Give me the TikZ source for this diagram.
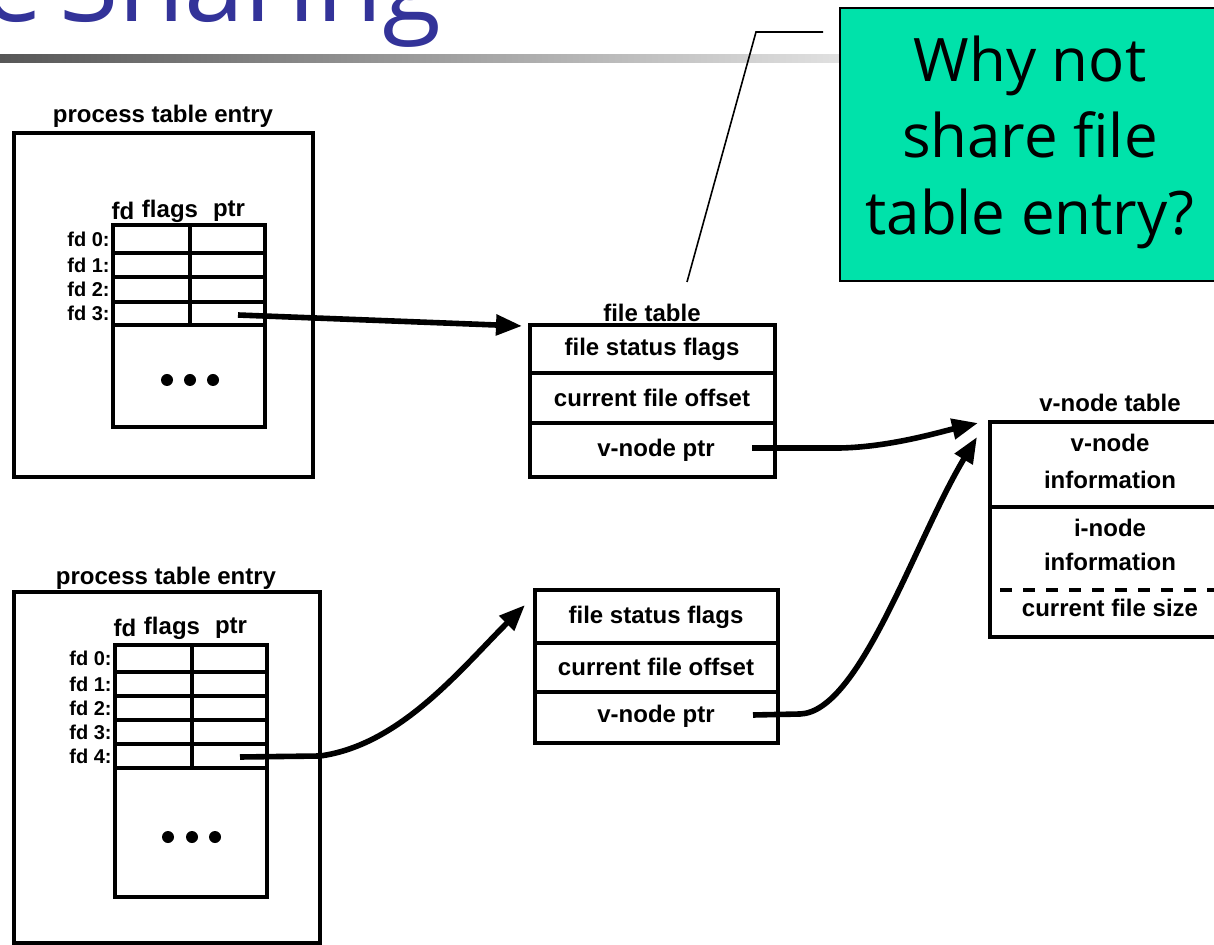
\documentclass[tikz,border=0pt]{standalone}
\usepackage{fontspec}
\setmainfont{Liberation Sans}
\newfontfamily\slidefont{Open Sans}
\usetikzlibrary{arrows.meta}
\definecolor{titleblue}{RGB}{51,51,153}
\definecolor{notegreen}{RGB}{0,226,170}
\tikzset{
	box/.style={line width=2.4pt},
	lbl/.style={font=\bfseries\fontsize{12}{12}\selectfont, inner sep=0pt},
	fdlbl/.style={font=\bfseries\fontsize{10}{10}\selectfont, inner sep=0pt, anchor=east},
	ptr/.style={line width=2.8pt, -{Triangle[length=13pt,width=10pt]}},
	notetext/.style={font=\slidefont\fontsize{30}{30}\selectfont, anchor=base, inner sep=0pt}
}
\begin{document}
\begin{tikzpicture}[x=0.5pt,y=-0.5pt]
		\useasboundingbox ( 0, 0 ) rectangle ( 1214, 945 );

		% заголовок слайда
		\node [anchor=base east, inner sep=0pt, text=titleblue, font=\slidefont\fontsize{54}{54}\selectfont] (title) at ( 442, 22 ) {File\hspace{-6pt} Sharing};
		\shade [left color=black!66, right color=black!12] ( 0, 55 ) rectangle ( 840, 63 );

		% вопрос
		\filldraw [fill=notegreen, line width=0.8pt] ( 840, 8 ) rectangle ( 1240, 281 );
		\node [notetext] (note1) at ( 1030, 82 ) {Why not};
		\node [notetext] (note2) at ( 1030, 158 ) {share file};
		\node [notetext] (note3) at ( 1030, 235 ) {table entry?};
		\coordinate (callout) at ( 687, 282 );
		\draw [line width=0.8pt] (callout) -- ( 756, 32 ) -- ( 823, 32 );

		% процесс 1
		\draw [box] ( 14, 133 ) rectangle ( 313, 477 );
		\node [lbl] (procA) at ( 163, 116 ) {process table entry};
		\node [lbl] (fdA) at ( 123, 211 ) {fd};
		\node [lbl] (flagsA) at ( 170, 211 ) {flags};
		\node [lbl] (ptrA) at ( 229, 211 ) {ptr};
		\draw [box] ( 113, 225 ) rectangle ( 265, 427 );
		\foreach \y in {253,277,302,325}
			\draw [box] ( 113, \y ) -- ( 265, \y );
		\draw [box] ( 190, 225 ) -- ( 190, 325 );
		\foreach \i/\y in {0/239,1/265,2/289,3/313}
			\node [fdlbl] (fdA\i) at ( 110, \y ) {fd \i:};
		\foreach \x in {167,190,213}
			\fill ( \x, 380 ) circle ( 3pt );
		\coordinate (cellA) at ( 238, 315 );

		% процесс 2
		\draw [box] ( 14, 592 ) rectangle ( 320, 943 );
		\node [lbl] (procB) at ( 166, 578 ) {process table entry};
		\node [lbl] (fdB) at ( 125, 628 ) {fd};
		\node [lbl] (flagsB) at ( 172, 628 ) {flags};
		\node [lbl] (ptrB) at ( 231, 628 ) {ptr};
		\draw [box] ( 115, 645 ) rectangle ( 267, 897 );
		\foreach \y in {672,696,720,744,768}
			\draw [box] ( 115, \y ) -- ( 267, \y );
		\draw [box] ( 192, 645 ) -- ( 192, 768 );
		\foreach \i/\y in {0/658,1/684,2/708,3/732,4/756}
			\node [fdlbl] (fdB\i) at ( 112, \y ) {fd \i:};
		\foreach \x in {168,192,215}
			\fill ( \x, 837 ) circle ( 3pt );
		\coordinate (cellB) at ( 240, 757 );

		% таблица файлов 1
		\draw [box] ( 530, 325 ) rectangle ( 775, 477 );
		\draw [box] ( 530, 373 ) -- ( 775, 373 );
		\draw [box] ( 530, 423 ) -- ( 775, 423 );
		\node [lbl] (ftA) at ( 652, 313 ) {file table};
		\node [lbl] (statusA) at ( 652, 349 ) {file status flags};
		\node [lbl] (offsetA) at ( 652, 398 ) {current file offset};
		\node [lbl] (vptrA) at ( 656, 450 ) {v-node ptr};
		\coordinate (ftAin) at ( 522, 326 );
		\coordinate (vcellA) at ( 752, 448 );

		% таблица файлов 2
		\draw [box] ( 535, 590 ) rectangle ( 778, 743 );
		\draw [box] ( 535, 643 ) -- ( 778, 643 );
		\draw [box] ( 535, 692 ) -- ( 778, 692 );
		\node [lbl] (statusB) at ( 656, 617 ) {file status flags};
		\node [lbl] (offsetB) at ( 656, 667 ) {current file offset};
		\node [lbl] (vptrB) at ( 656, 716 ) {v-node ptr};
		\coordinate (ftBin) at ( 525, 605 );
		\coordinate (vcellB) at ( 753, 715 );

		% таблица v-узлов
		\draw [box] ( 990, 422 ) rectangle ( 1232, 637 );
		\draw [box] ( 990, 507 ) -- ( 1232, 507 );
		\draw [line width=2.4pt, dash pattern=on 6pt off 5.5pt] ( 1000, 590 ) -- ( 1214, 590 );
		\node [lbl] (vt) at ( 1110, 403 ) {v-node table};
		\node [lbl] (vinfo1) at ( 1110, 443 ) {v-node};
		\node [lbl] (vinfo2) at ( 1110, 480 ) {information};
		\node [lbl] (iinfo1) at ( 1110, 528 ) {i-node};
		\node [lbl] (iinfo2) at ( 1110, 562 ) {information};
		\node [lbl] (fsize) at ( 1110, 608 ) {current file size};
		\coordinate (vtinA) at ( 978, 423 );
		\coordinate (vtinB) at ( 977, 437 );

		% указатели
		\draw [ptr] (cellA) -- (ftAin);
		\draw [ptr] (cellB) -- ( 320, 756 ) .. controls ( 400, 745 ) and ( 460, 670 ) .. (ftBin);
		\draw [ptr] (vcellA) -- ( 840, 448 ) .. controls ( 890, 447 ) and ( 940, 432 ) .. (vtinA);
		\draw [ptr] (vcellB) -- ( 800, 714 ) .. controls ( 860, 712 ) and ( 915, 540 ) .. (vtinB);
	\end{tikzpicture}
\end{document}
